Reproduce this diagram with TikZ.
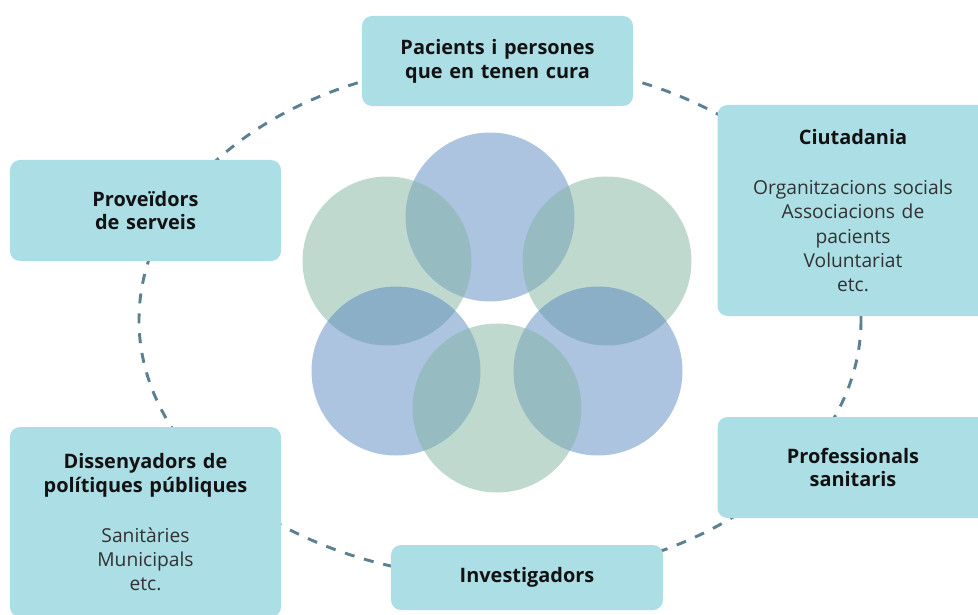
\documentclass[tikz,border=0pt]{standalone}
\usepackage{fontspec}
\setmainfont{Open Sans}
\usepackage{tikz}
\definecolor{boxcyan}{RGB}{172,222,230}
\definecolor{ringgray}{RGB}{90,128,145}
\definecolor{petalblue}{RGB}{79,129,189}
\definecolor{petalgreen}{RGB}{130,180,160}
\definecolor{lighttext}{RGB}{50,50,50}
\newcommand{\detailfont}{\fontsize{16.4}{20.8}\selectfont\mdseries\color{lighttext}}

\begin{document}
\begin{tikzpicture}[x=0.03cm, y=-0.03cm,
    stakebox/.style={fill=boxcyan, rounded corners=0.3cm, align=center,
      text width=7.8cm, minimum width=8.13cm, inner sep=0pt,
      font=\fontsize{17}{20.4}\selectfont\bfseries, text=black!93}]
                \useasboundingbox (0,0) rectangle (978,615);
                \clip (0,0) rectangle (978,615);

                % Ring
                \draw[ringgray, line width=2.5pt, dash pattern=on 8.5pt off 8.5pt]
                  (500,320) ellipse [x radius=361, y radius=258];

                % Petals
                \fill[petalblue, fill opacity=0.47] (490,217) circle [radius=84.5];
                \fill[petalgreen, fill opacity=0.5] (387,261) circle [radius=84.5];
                \fill[petalgreen, fill opacity=0.5] (607,261) circle [radius=84.5];
                \fill[petalblue, fill opacity=0.47] (396,371) circle [radius=84.5];
                \fill[petalblue, fill opacity=0.47] (598,371) circle [radius=84.5];
                \fill[petalgreen, fill opacity=0.5] (497,408) circle [radius=84.5];

                % Stakeholders
                \node[stakebox, minimum height=2.7cm] (pacients) at (497.5,61)
                  {Pacients i persones\\que en tenen cura};

                \node[stakebox, minimum height=6.33cm] (ciutadania) at (853,210.5)
                  {Ciutadania\\[22pt]
                   \detailfont Organitzacions socials\\Associacions de\\pacients\\Voluntariat\\etc.};

                \node[stakebox, minimum height=3.03cm] (proveidors) at (145.5,210.5)
                  {Proveïdors\\de serveis};

                \node[stakebox, minimum height=3.03cm] (professionals) at (853,467.5)
                  {Professionals\\sanitaris};

                \node[stakebox, minimum height=5.7cm] (dissenyadors) at (145.5,522)
                  {Dissenyadors de\\polítiques públiques\\[22pt]
                   \detailfont Sanitàries\\Municipals\\etc.};

                \node[stakebox, minimum height=1.95cm, minimum width=8.16cm] (investigadors) at (527,577.5)
                  {Investigadors};
            \end{tikzpicture}
\end{document}
